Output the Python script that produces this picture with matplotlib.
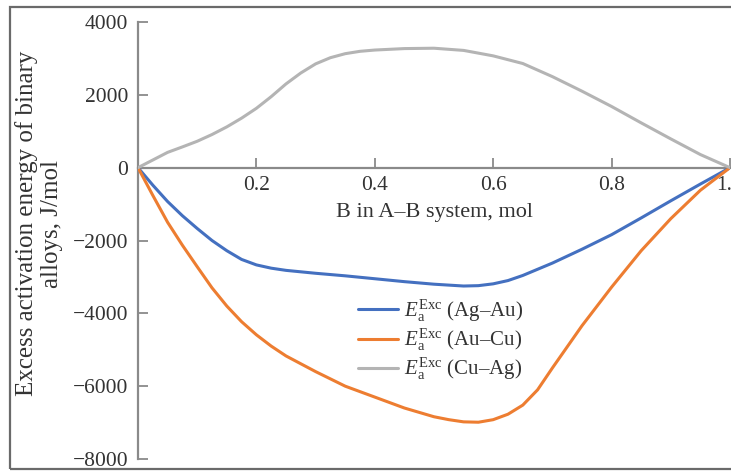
"""Excess activation energy of binary alloys vs composition (Ag-Au, Au-Cu, Cu-Ag)."""

import matplotlib

matplotlib.use("Agg")
import matplotlib.pyplot as plt
from matplotlib.patches import Rectangle

# composition of B in the A-B system, mol, and values
X_AG_AU = [0.0, 0.025, 0.05, 0.075, 0.10, 0.125, 0.15, 0.175, 0.20, 0.225, 0.25,
           0.30, 0.35, 0.40, 0.45, 0.50, 0.55, 0.575, 0.60, 0.625, 0.65, 0.675,
           0.70, 0.75, 0.80, 0.85, 0.90, 0.95, 1.0]
AG_AU = [0, -480, -930, -1320, -1670, -2000, -2280, -2520, -2670, -2760, -2820,
         -2900, -2970, -3050, -3130, -3200, -3250, -3240, -3190, -3100, -2960, -2790,
         -2620, -2240, -1840, -1380, -910, -450, 0]

X_AU_CU = [0.0, 0.025, 0.05, 0.075, 0.10, 0.125, 0.15, 0.175, 0.20, 0.225, 0.25,
           0.30, 0.35, 0.40, 0.45, 0.50, 0.525, 0.55, 0.575, 0.60, 0.625, 0.65,
           0.675, 0.70, 0.725, 0.75, 0.80, 0.85, 0.90, 0.95, 1.0]
AU_CU = [0, -760, -1500, -2130, -2720, -3300, -3800, -4230, -4590, -4900, -5170,
         -5600, -6000, -6300, -6600, -6840, -6920, -6980, -6990, -6920, -6770, -6520,
         -6100, -5500, -4920, -4340, -3280, -2280, -1400, -620, 0]

X_CU_AG = [0.0, 0.025, 0.05, 0.075, 0.10, 0.125, 0.15, 0.175, 0.20, 0.225, 0.25,
           0.275, 0.30, 0.325, 0.35, 0.375, 0.40, 0.45, 0.50, 0.55, 0.60, 0.65,
           0.70, 0.75, 0.80, 0.85, 0.90, 0.95, 1.0]
CU_AG = [0, 210, 420, 570, 725, 910, 1120, 1360, 1630, 1950, 2300,
         2600, 2850, 3020, 3130, 3195, 3230, 3270, 3280, 3220, 3070, 2860,
         2500, 2100, 1680, 1230, 790, 360, 0]

LABELS = ["Ag–Au", "Au–Cu", "Cu–Ag"]
COLORS = ["#4470c0", "#ed7d31", "#b4b4b4"]

X_TICKS = [0.2, 0.4, 0.6, 0.8, 1.0]
X_TICKLABELS = ["0.2", "0.4", "0.6", "0.8", "1.0"]
Y_TICKS = [-8000, -6000, -4000, -2000, 0, 2000, 4000]

TEXT = "#333333"
AXIS = "#8a8a8a"

plt.rcParams["font.family"] = ["Liberation Serif", "DejaVu Serif"]
plt.rcParams["mathtext.fontset"] = "custom"
plt.rcParams["mathtext.rm"] = "Liberation Serif"
plt.rcParams["mathtext.it"] = "Liberation Serif:italic"

fig = plt.figure(figsize=(7.31, 4.71), dpi=100)
fig.patch.set_facecolor("white")
ax = fig.add_axes([138 / 731, 1 - 459 / 471, 592 / 731, 437 / 471])

series = [(X_AG_AU, AG_AU), (X_AU_CU, AU_CU), (X_CU_AG, CU_AG)]
for (xs, ys), lab, col in zip(series, LABELS, COLORS):
    ax.plot(xs, ys, color=col, lw=2.2, solid_capstyle="round",
            solid_joinstyle="round",
            label=r"$E_{\mathrm{a}}^{\mathrm{Exc}}$" + f" ({lab})", zorder=3)

ax.set_xlim(0, 1.0)
ax.set_ylim(-8000, 4000)
ax.spines["top"].set_visible(False)
ax.spines["right"].set_visible(False)
ax.spines["bottom"].set_position(("data", 0))
for s in ("left", "bottom"):
    ax.spines[s].set_color(AXIS)
    ax.spines[s].set_linewidth(1.6)
    ax.spines[s].set_zorder(2)

ax.set_xticks(X_TICKS)
ax.set_xticklabels(X_TICKLABELS)
ax.set_yticks(Y_TICKS)
ax.set_yticklabels([f"{v}".replace("-", "\u2212") for v in Y_TICKS])
ax.tick_params(axis="both", direction="in", length=7, width=1.3, color=AXIS,
               labelcolor=TEXT, labelsize=15.5)
ax.tick_params(axis="x", pad=6)
ax.tick_params(axis="y", pad=7)

ax.text(0.5, -1230, "B in A–B system, mol", ha="center", va="center",
        fontsize=16, color=TEXT)

fig.text(39 / 731, 0.525, "Excess activation energy of binary\nalloys, J/mol",
         rotation=90, ha="center", va="center", multialignment="center",
         fontsize=18, color=TEXT, linespacing=1.2)

ax.legend(loc="center", bbox_to_anchor=(441 / 731, 1 - 340 / 471),
          bbox_transform=fig.transFigure, frameon=False, fontsize=15,
          handlelength=1.9, handletextpad=0.3, labelspacing=0.15,
          labelcolor=TEXT)

fig.add_artist(Rectangle((10 / 731, 2 / 471), 1.2, 1 - 9 / 471,
                         transform=fig.transFigure, fill=False,
                         ec="#6a6a6a", lw=1.6))

fig.savefig("out.png", dpi=100)
